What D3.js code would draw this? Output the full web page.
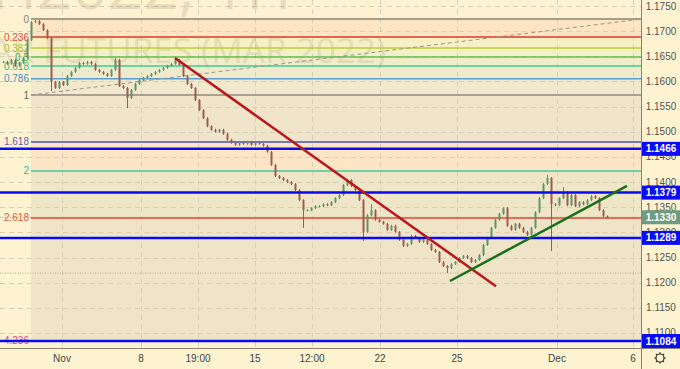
<!DOCTYPE html>
<html><head><meta charset="utf-8">
<script src="https://cdn.jsdelivr.net/npm/d3@7"></script>
<style>body{margin:0;background:#fdf3d1}svg{display:block;font-family:"Liberation Sans",Arial,sans-serif}</style>
</head><body><svg id="c" width="680" height="369"></svg>
<script>
// ---- data ----
const closes = [1.1639,1.1635,1.1643,1.1631,1.1637,1.1647,1.1682,
1.1718,1.1720,1.1714,1.1702,1.1686,1.1599,1.1587,1.1599,1.1593,1.1611,1.1619,1.1627,1.1637,1.1635,1.1639,1.1635,1.1623,1.1619,1.1615,1.1611,1.1623,1.1643,1.1591,1.1587,1.1567,1.1583,1.1595,1.1603,1.1607,1.1611,1.1615,1.1619,1.1623,1.1627,1.1631,1.1635,1.1643,1.1633,1.1611,1.1595,1.1587,1.1563,1.1543,1.1527,1.1511,1.1504,1.1500,1.1504,1.1496,1.1484,1.1478,1.1474,1.1478,1.1476,1.1480,1.1474,1.1478,1.1476,1.1472,1.1460,1.1434,1.1412,1.1408,1.1404,1.1400,1.1396,1.1384,1.1364,1.1344,1.1344,1.1348,1.1352,1.1352,1.1356,1.1354,1.1360,1.1368,1.1374,1.1394,1.1404,1.1392,1.1384,1.1364,1.1301,1.1334,1.1344,1.1325,1.1321,1.1317,1.1305,1.1313,1.1301,1.1285,1.1273,1.1277,1.1293,1.1289,1.1281,1.1285,1.1277,1.1265,1.1261,1.1241,1.1233,1.1229,1.1237,1.1241,1.1249,1.1253,1.1249,1.1241,1.1245,1.1255,1.1275,1.1289,1.1309,1.1325,1.1337,1.1348,1.1313,1.1305,1.1317,1.1309,1.1301,1.1295,1.1309,1.1340,1.1368,1.1396,1.1408,1.1356,1.1354,1.1368,1.1380,1.1354,1.1374,1.1352,1.1360,1.1356,1.1364,1.1372,1.1368,1.1344,1.1332,1.1330];
const spikeBars = [12, 28, 31, 43, 75, 90, 92, 111, 136, 137, 140];
const spikeHigh = [null, 1.1645, null, 1.1645, null, null, 1.1354, null, 1.1412, null, 1.1388];
const spikeLow  = [1.1583, null, 1.1549, null, 1.1311, 1.1285, null, 1.1221, null, 1.1265, null];

const priceTicks = [1.1750,1.1700,1.1650,1.1600,1.1550,1.1500,1.1450,1.1400,1.1350,1.1300,1.1250,1.1200,1.1150,1.1100];
const timeLabels = ["Nov","8","19:00","15","12:00","22","25","Dec","6"];
const timeBars = [14.75, 34.5, 48.75, 63, 77.25, 94.25, 113.5, 138.5, 157.5];

const fibRatios = [0, 0.236, 0.382, 0.5, 0.618, 0.786, 1, 1.618, 2, 2.618, 4.236];
const fibLabels = ["0","0.236","0.382","0.5","0.618","0.786","1","1.618","2","2.618","4.236"];
const fibHighPrice = 1.1724, fibLowPrice = 1.1573;
const fibStartBar = 7, fibEndBar = 159.5;

const hLevels = [1.1466, 1.1379, 1.1289, 1.1084];
const lastPrice = 1.1330;
const dottedLevel = 1.1219;

const redTrend = [[43, 1.16466], [123.25, 1.11927]];
const greenTrend = [[111.75, 1.12033], [156, 1.13922]];

// ---- styles ----
const fibColors = ["#a69d8d","#e2664f","#bccf3c","#5ec24c","#3ecb95","#5b9fd2","#aaa190","#7474c2","#3fc997","#e36b58","#e552a3"];
const fibTextColors = ["#8a8272","#d9503a","#a8bf2a","#4cb03c","#2fb882","#4a8fc4","#6a6458","#6060b0","#2fc08c","#df5a48","#e0409a"];
const bandFills = ["#fde4c2","#f8efc5","#f3efc6","#f1edc9","#f0eacc","#f1e8ce","#f0e5ca","#fde5c5","#efe6c8","#f0e4c8"];

const W = 680, H = 369, plotR = 641, plotB = 348;
const svg = d3.select("#c");
const x = d3.scaleLinear().domain([0, 157.5]).range([3, 633]);
const y = d3.scaleLinear().domain([1.1750, 1.1084]).range([6, 341]);

svg.append("rect").attr("width", W).attr("height", H).attr("fill", "#fdf3d1");

// fib bands
const fibPrice = r => fibHighPrice - r * (fibHighPrice - fibLowPrice);
const fx0 = x(fibStartBar), fx1 = Math.min(x(fibEndBar), plotR);
for (let i = 0; i < fibRatios.length - 1; i++) {
  const y0 = y(fibPrice(fibRatios[i])), y1 = y(fibPrice(fibRatios[i+1]));
  svg.append("rect").attr("x", fx0).attr("y", y0).attr("width", fx1 - fx0).attr("height", y1 - y0).attr("fill", bandFills[i]);
}

// grid
const grid = svg.append("g").attr("stroke", "#d9cfb6").attr("stroke-dasharray", "5,4").attr("stroke-width", 1);
priceTicks.forEach(p => grid.append("line").attr("x1", 0).attr("x2", plotR).attr("y1", Math.round(y(p)) + 0.5).attr("y2", Math.round(y(p)) + 0.5));
timeBars.forEach(b => grid.append("line").attr("y1", 0).attr("y2", plotB).attr("x1", Math.round(x(b)) + 0.5).attr("x2", Math.round(x(b)) + 0.5));

// watermark
svg.append("text").attr("x", 292).attr("y", 9).attr("text-anchor", "end").attr("font-size", 62)
  .attr("font-family", "'Open Sans',sans-serif").attr("fill", "rgba(130,118,90,0.18)").text("6EH2022, 1H");
svg.append("text").attr("x", 386).attr("y", 63).attr("text-anchor", "end").attr("font-size", 35)
  .attr("font-family", "'Open Sans',sans-serif").attr("fill", "rgba(130,118,90,0.18)").text("DOLLAR FUTURES (MAR 2022)");

// fib lines + labels
fibRatios.forEach((r, i) => {
  const yy = y(fibPrice(r));
  svg.append("line").attr("x1", fx0).attr("x2", fx1).attr("y1", yy).attr("y2", yy)
    .attr("stroke", fibColors[i]).attr("stroke-width", (r === 0 || r === 1 || r === 0.236 || r === 2.618 || r === 1.618) ? 2 : 1.5);
  svg.append("text").attr("x", fx0 - 2).attr("y", yy + 3.5).attr("text-anchor", "end").attr("font-size", 10)
    .attr("fill", fibTextColors[i]).text(fibLabels[i]);
});

// fib dashed trend line
svg.append("line").attr("x1", x(fibStartBar)).attr("y1", y(fibLowPrice)).attr("x2", fx1).attr("y2", y(fibHighPrice))
  .attr("stroke", "#9a968c").attr("stroke-width", 1).attr("stroke-dasharray", "4,3");

// dotted lines
svg.append("line").attr("x1", 0).attr("x2", plotR).attr("y1", y(dottedLevel)).attr("y2", y(dottedLevel))
  .attr("stroke", "#b3aa96").attr("stroke-dasharray", "1,1.5");
svg.append("line").attr("x1", 0).attr("x2", plotR).attr("y1", y(lastPrice)).attr("y2", y(lastPrice))
  .attr("stroke", "#7fa98a").attr("stroke-dasharray", "1,1.5");

// candles
const candles = closes.map((c, i) => {
  const o = i === 0 ? c : closes[i-1];
  let hi = Math.max(o, c), lo = Math.min(o, c);
  const k = spikeBars.indexOf(i);
  if (k >= 0) { if (spikeHigh[k] != null) hi = spikeHigh[k]; if (spikeLow[k] != null) lo = spikeLow[k]; }
  return {i, o, c, hi, lo};
});
const cg = svg.append("g");
candles.forEach(d => {
  const col = d.c >= d.o ? "#5e9566" : "#9c5d4e";
  const cx = Math.round(x(d.i));
  cg.append("line").attr("x1", cx + 0.5).attr("x2", cx + 0.5).attr("y1", y(d.hi) - 1).attr("y2", y(d.lo) + 1).attr("stroke", col).attr("stroke-width", 1);
  const yt = Math.min(y(d.o), y(d.c)), yb = Math.max(y(d.o), y(d.c));
  cg.append("rect").attr("x", cx - 0.5).attr("y", yt).attr("width", 2).attr("height", Math.max(1, yb - yt)).attr("fill", col);
});

// horizontal blue levels
hLevels.forEach(p => {
  svg.append("line").attr("x1", 0).attr("x2", plotR).attr("y1", y(p)).attr("y2", y(p)).attr("stroke", "#0a0af0").attr("stroke-width", 2.5);
});

// trend lines
const line = d3.line().x(d => x(d[0])).y(d => y(d[1]));
svg.append("path").attr("d", line(redTrend)).attr("stroke", "#b8181c").attr("stroke-width", 2.5).attr("fill", "none");
svg.append("path").attr("d", line(greenTrend)).attr("stroke", "#187018").attr("stroke-width", 2.5).attr("fill", "none");

// axes areas
svg.append("rect").attr("x", plotR).attr("y", 0).attr("width", W - plotR).attr("height", H).attr("fill", "#fdf3d1");
svg.append("rect").attr("x", 0).attr("y", plotB).attr("width", W).attr("height", H - plotB).attr("fill", "#fdf3d1");
svg.append("line").attr("x1", plotR + 0.5).attr("x2", plotR + 0.5).attr("y1", 0).attr("y2", H).attr("stroke", "#8d826d").attr("stroke-width", 1);
svg.append("line").attr("x1", 0).attr("x2", W).attr("y1", plotB + 0.5).attr("y2", plotB + 0.5).attr("stroke", "#8d826d").attr("stroke-width", 1);

// price tick labels
priceTicks.forEach(p => {
  svg.append("text").attr("x", 661).attr("y", y(p) + 3.5).attr("text-anchor", "middle").attr("font-size", 10).attr("fill", "#555").text(p.toFixed(4));
});
// time labels
timeLabels.forEach((t, i) => {
  svg.append("text").attr("x", x(timeBars[i])).attr("y", 362).attr("text-anchor", "middle").attr("font-size", 10).attr("fill", "#444").text(t);
});

// price boxes
function box(p, fill) {
  const yy = y(p);
  svg.append("rect").attr("x", plotR + 1).attr("y", yy - 7).attr("width", W - plotR - 1).attr("height", 14).attr("fill", fill);
  svg.append("text").attr("x", 661).attr("y", yy + 3.5).attr("text-anchor", "middle").attr("font-size", 10).attr("font-weight", "bold").attr("fill", "#fff").text(p.toFixed(4));
}
hLevels.forEach(p => box(p, "#0b0bf5"));
box(lastPrice, "#6f9c7f");

// settings gear
const gx = 660, gy = 358;
const gear = svg.append("g").attr("stroke", "#333").attr("fill", "none");
gear.append("circle").attr("cx", gx).attr("cy", gy).attr("r", 4).attr("stroke-width", 1.2);
d3.range(8).forEach(k => {
  const a = k * Math.PI / 4;
  gear.append("line").attr("x1", gx + Math.cos(a) * 4).attr("y1", gy + Math.sin(a) * 4).attr("x2", gx + Math.cos(a) * 5.8).attr("y2", gy + Math.sin(a) * 5.8).attr("stroke-width", 1.2);
});
</script></body></html>
